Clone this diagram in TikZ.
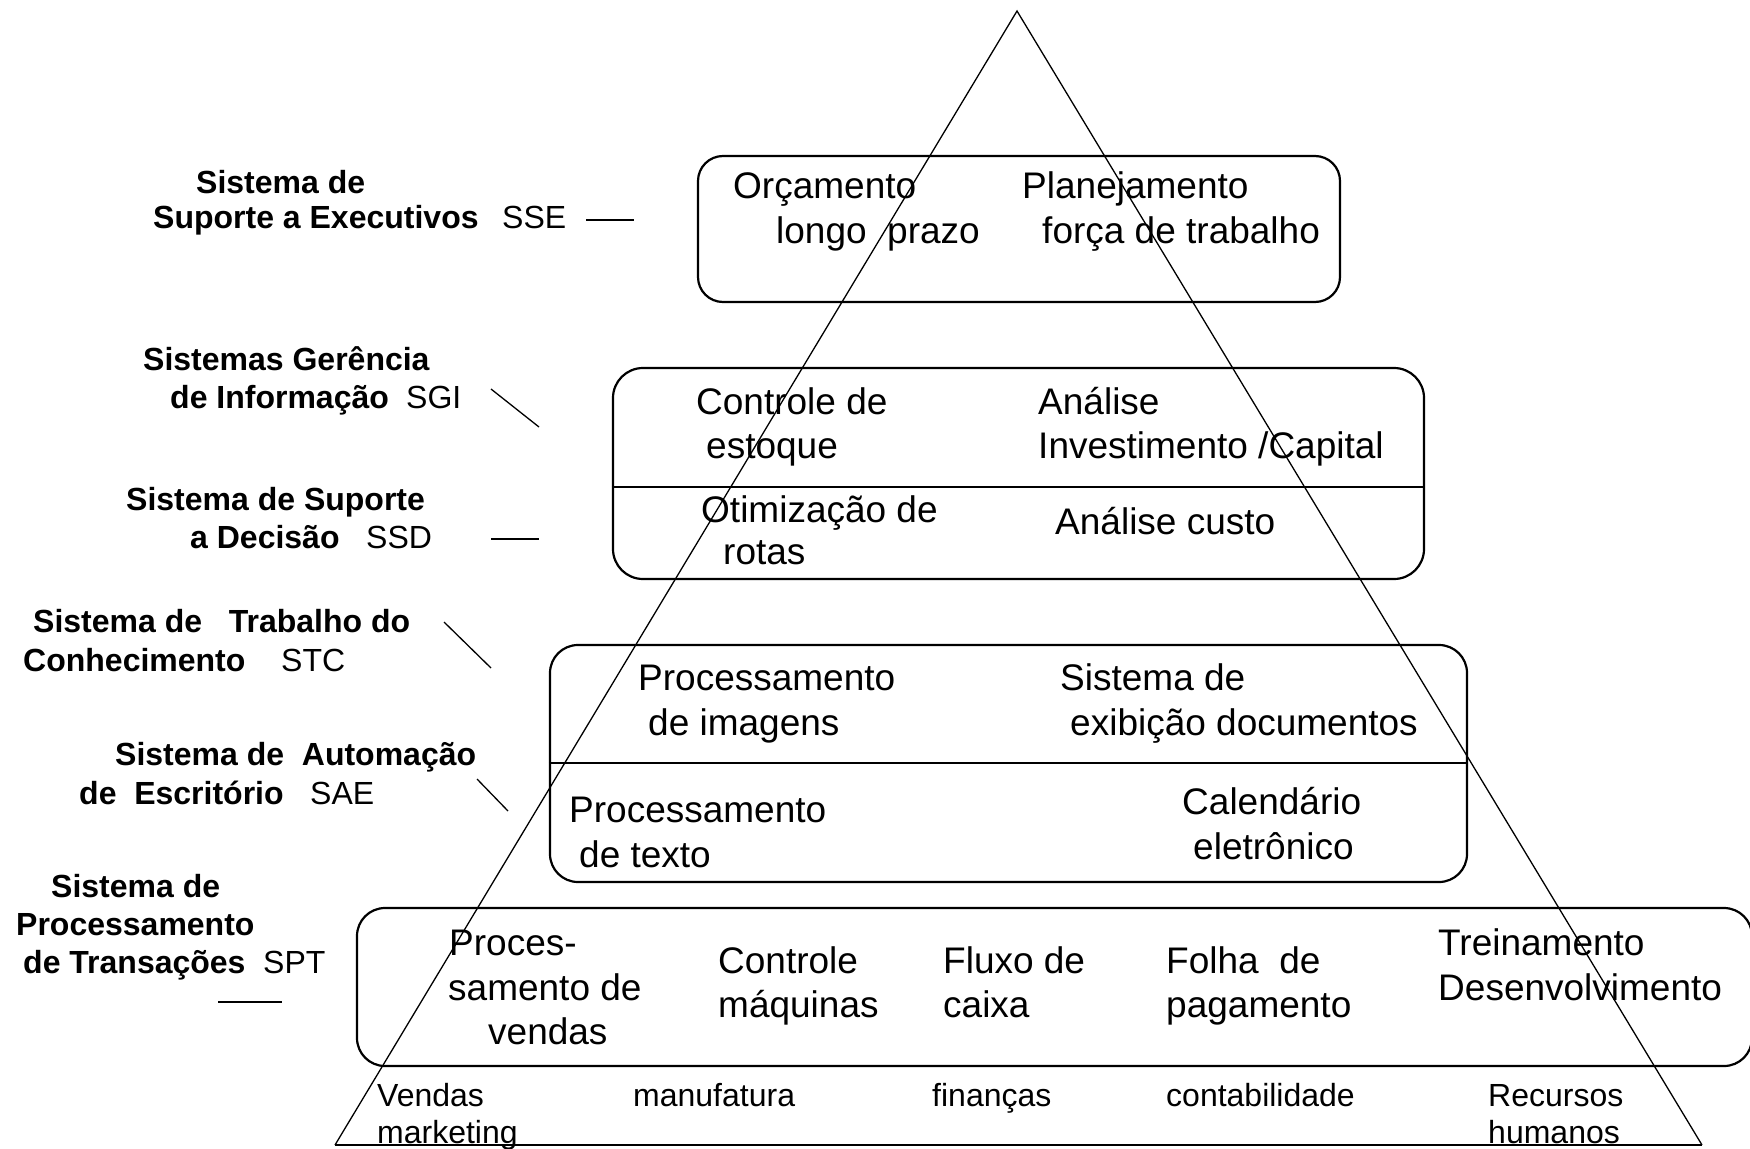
\documentclass[tikz,border=0pt]{standalone}
\usepackage{fontspec}
\setmainfont{Liberation Sans}
\begin{document}
\begin{tikzpicture}[x=1pt,y=-1pt,
  boxtxt/.style={font=\fontsize{37}{45}\selectfont, anchor=base west, inner sep=0pt},
  lbl/.style={font=\bfseries\fontsize{32}{37}\selectfont, anchor=base west, inner sep=0pt},
  abbr/.style={font=\fontsize{32}{37}\selectfont, anchor=base west, inner sep=0pt},
  dept/.style={font=\fontsize{32}{37}\selectfont, anchor=base west, inner sep=0pt},
  tier/.style={draw, line width=2.2pt, inner sep=0pt},
  divider/.style={line width=2.2pt},
  tri/.style={line width=1.3pt},
  tick/.style={line width=2.2pt}]
\useasboundingbox (0,0) rectangle (1750,1148);

% tier boxes
\node[tier, rounded corners=25pt, minimum width=642pt, minimum height=146pt] (b1) at (1019,229) {};
\node[tier, rounded corners=30pt, minimum width=811pt, minimum height=211pt] (b2) at (1018.5,473.5) {};
\node[tier, rounded corners=28pt, minimum width=917pt, minimum height=237pt] (b3) at (1008.5,763.5) {};
\node[tier, rounded corners=28pt, minimum width=1395pt, minimum height=158pt] (b4) at (1054.5,987) {};
\draw[divider] (b2.west |- 0,487) -- (b2.east |- 0,487);
\draw[divider] (b3.west |- 0,763) -- (b3.east |- 0,763);

% box 1
\node[boxtxt] (t11) at (733,198) {Orçamento};
\node[boxtxt] (t12) at (776,243) {longo\ \ prazo};
\node[boxtxt] (t13) at (1022,198) {Planejamento};
\node[boxtxt] (t14) at (1042,243) {força de trabalho};
% box 2
\node[boxtxt] (t21) at (696,414) {Controle de};
\node[boxtxt] (t22) at (706,458) {estoque};
\node[boxtxt] (t23) at (1038,414) {Análise};
\node[boxtxt] (t24) at (1038,458) {Investimento /Capital};
\node[boxtxt] (t25) at (701,522) {Otimização de};
\node[boxtxt] (t26) at (723,564) {rotas};
\node[boxtxt] (t27) at (1055,534) {Análise custo};
% box 3
\node[boxtxt] (t31) at (638,690) {Processamento};
\node[boxtxt] (t32) at (648,735) {de imagens};
\node[boxtxt] (t33) at (1060,690) {Sistema de};
\node[boxtxt] (t34) at (1070,735) {exibição documentos};
\node[boxtxt] (t35) at (569,822) {Processamento};
\node[boxtxt] (t36) at (579,867) {de texto};
\node[boxtxt] (t37) at (1182,814) {Calendário};
\node[boxtxt] (t38) at (1193,859) {eletrônico};
% box 4
\node[boxtxt] (t41) at (449,955) {Proces-};
\node[boxtxt] (t42) at (448,1000) {samento de};
\node[boxtxt] (t43) at (488,1044) {vendas};
\node[boxtxt] (t44) at (718,973) {Controle};
\node[boxtxt] (t45) at (718,1017) {máquinas};
\node[boxtxt] (t46) at (943,973) {Fluxo de};
\node[boxtxt] (t47) at (943,1017) {caixa};
\node[boxtxt] (t48) at (1166,973) {Folha\ \ de};
\node[boxtxt] (t49) at (1166,1017) {pagamento};
\node[boxtxt] (t410) at (1438,955) {Treinamento};
\node[boxtxt] (t411) at (1438,1000) {Desenvolvimento};

% departments
\node[dept] (d1) at (377,1106) {Vendas};
\node[dept] (d1b) at (377,1143) {marketing};
\node[dept] (d2) at (633,1106) {manufatura};
\node[dept] (d3) at (932,1106) {finanças};
\node[dept] (d4) at (1166,1106) {contabilidade};
\node[dept] (d5) at (1488,1106) {Recursos};
\node[dept] (d5b) at (1488,1143) {humanos};

% pyramid
\coordinate (apex) at (1017,11);
\coordinate (bl) at (335,1145);
\coordinate (br) at (1702,1145);
\draw[tri] (bl) -- (apex) -- (br);
\draw[line width=1.6pt] (bl) -- (br);

% left labels
\node[lbl] (l1a) at (196,193) {Sistema de};
\node[lbl] (l1b) at (153,228) {Suporte a Executivos};
\node[abbr] (a1) at (502,228) {SSE};
\node[lbl] (l2a) at (143,370) {Sistemas Gerência};
\node[lbl] (l2b) at (170,408) {de Informação};
\node[abbr] (a2) at (406,408) {SGI};
\node[lbl] (l3a) at (126,510) {Sistema de Suporte};
\node[lbl] (l3b) at (190,548) {a Decisão};
\node[abbr] (a3) at (366,548) {SSD};
\node[lbl] (l4a) at (33,632) {Sistema de\ \ \ Trabalho do};
\node[lbl] (l4b) at (23,671) {Conhecimento};
\node[abbr] (a4) at (281,671) {STC};
\node[lbl] (l5a) at (115,765) {Sistema de\ \ Automação};
\node[lbl] (l5b) at (79,804) {de\ \ Escritório};
\node[abbr] (a5) at (310,804) {SAE};
\node[lbl] (l6a) at (51,897) {Sistema de};
\node[lbl] (l6b) at (16,935) {Processamento};
\node[lbl] (l6c) at (23,973) {de Transações};
\node[abbr] (a6) at (263,973) {SPT};

% ticks
\coordinate (k1a) at (586,220); \coordinate (k1b) at (634,220);
\coordinate (k2a) at (491,389); \coordinate (k2b) at (539,427);
\coordinate (k3a) at (491,539); \coordinate (k3b) at (539,539);
\coordinate (k4a) at (444,622); \coordinate (k4b) at (491,668);
\coordinate (k5a) at (477,779); \coordinate (k5b) at (508,811);
\coordinate (k6a) at (218,1002); \coordinate (k6b) at (282,1002);
\draw[tick] (k1a) -- (k1b);
\draw[line width=1.3pt] (k2a) -- (k2b);
\draw[tick] (k3a) -- (k3b);
\draw[line width=1.3pt] (k4a) -- (k4b);
\draw[line width=1.3pt] (k5a) -- (k5b);
\draw[tick] (k6a) -- (k6b);
\end{tikzpicture}
\end{document}
